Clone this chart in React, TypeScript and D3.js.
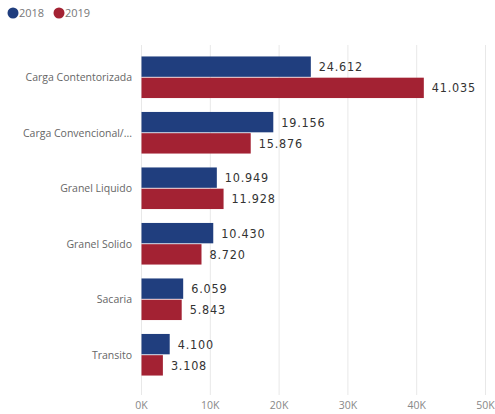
import React from "react";
import * as d3 from "d3";

const categories = ["Carga Contentorizada", "Carga Convencional/...", "Granel Liquido", "Granel Solido", "Sacaria", "Transito"];
const series = ["2018", "2019"];
const values2018 = [24612, 19156, 10949, 10430, 6059, 4100];
const values2019 = [41035, 15876, 11928, 8720, 5843, 3108];
const xTicks = [0, 10000, 20000, 30000, 40000, 50000];
const colors = ["#203E7E", "#A32233"];

const W = 495, H = 414;
const fmt = (v: number) => d3.format(",")(v).replace(/,/g, ".");

export default function App() {
  const x = d3.scaleLinear().domain([0, 50000]).range([141.5, 485.5]);
  const y = d3.scaleBand<string>().domain(categories).range([49.5, 382.5]).paddingInner(0.22).paddingOuter(0.11);
  const y2 = d3.scaleBand<string>().domain(series).range([0, y.bandwidth()]).padding(0.04);
  const data = [values2018, values2019];
  return (
    <svg width={W} height={H} style={{ position: "absolute", left: 0, top: 0, background: "#fff" }}>
      {/* legend */}
      {series.map((s, i) => (
        <g key={s} transform={`translate(${i * 46 + 13},13)`}>
          <circle r={5.5} fill={colors[i]} />
          <text x={6} y={4} fontSize={11} fill="#777" fontFamily="'Open Sans', sans-serif">{s}</text>
        </g>
      ))}
      {/* grid */}
      {xTicks.map((t) => (
        <g key={t}>
          <line x1={x(t)} x2={x(t)} y1={45} y2={395} stroke="#e8e8e8" strokeWidth={1} />
          <text x={x(t)} y={409} textAnchor="middle" fontSize={10.5} fill="#888" fontFamily="'Open Sans', sans-serif">
            {d3.format("d")(t / 1000)}K
          </text>
        </g>
      ))}
      {categories.map((c, ci) => (
        <g key={c}>
          <text x={132} y={(y(c) as number) + y.bandwidth() / 2 + 4} textAnchor="end" fontSize={10.5} fill="#666" fontFamily="'Open Sans', sans-serif">{c}</text>
          {series.map((s, si) => {
            const v = data[si][ci];
            const yy = (y(c) as number) + (y2(s) as number);
            return (
              <g key={s}>
                <rect x={x(0)} y={yy} width={x(v) - x(0)} height={y2.bandwidth()} fill={colors[si]} />
                <text x={x(v) + 8} y={yy + y2.bandwidth() / 2 + 4.5} fontSize={12.5} fill="#333" letterSpacing={0.8}
                  fontFamily="'DejaVu Sans Condensed', 'Liberation Sans Narrow', sans-serif">{fmt(v)}</text>
              </g>
            );
          })}
        </g>
      ))}
    </svg>
  );
}
